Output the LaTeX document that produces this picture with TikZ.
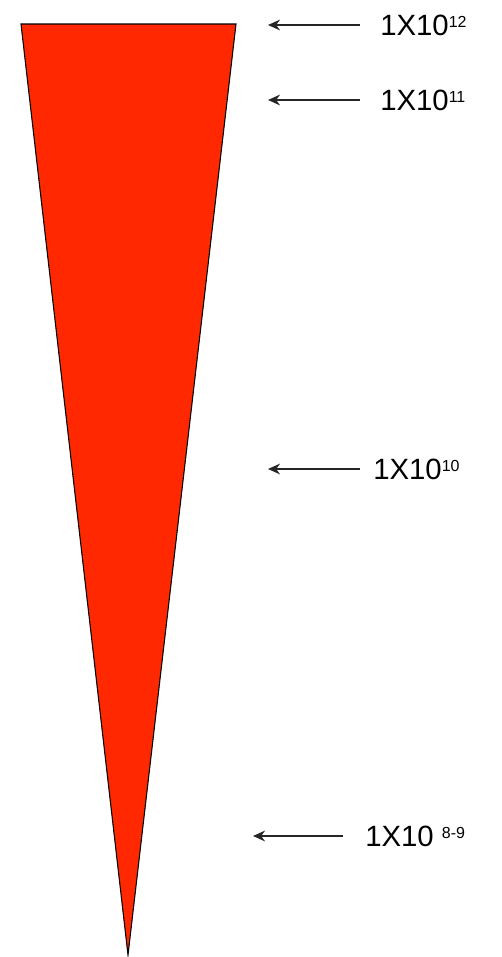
\documentclass[tikz,border=0pt]{standalone}
\usepackage{fontspec}
\setmainfont{Liberation Sans}
\usetikzlibrary{arrows.meta}
\definecolor{wedgered}{RGB}{255,40,0}
\newcommand{\expo}[1]{\raisebox{5.4pt}{\fontsize{12}{12}\selectfont #1}}
\tikzset{
  ptr/.style={-{Stealth[length=9pt,width=8pt]}, line width=1.7pt, black!85},
  lab/.style={anchor=west, inner sep=0pt, font=\fontsize{22}{24}\selectfont}
}
\begin{document}
\begin{tikzpicture}[x=0.75pt, y=-0.75pt]
    \useasboundingbox (0,0) rectangle (502,957);

    % Wedge
    \fill[wedgered] (21,24) -- (236,24) -- (128,955) -- cycle;
    \draw[line width=0.8pt] (21,24) -- (236,24) -- (128,955) -- cycle;

    % Labels
    \node[lab] (l12) at (380,25) {1X10\expo{12}};
    \node[lab] (l11) at (380,100) {1X10\expo{11}};
    \node[lab] (l10) at (373,469) {1X10\expo{10}};
    \node[lab] (l89) at (365,836) {1X10 \expo{8-9}};

    % Arrow ends
    \coordinate (t12) at (360,25);  \coordinate (h12) at (268,25);
    \coordinate (t11) at (360,100); \coordinate (h11) at (268,100);
    \coordinate (t10) at (360,469); \coordinate (h10) at (268,469);
    \coordinate (t89) at (343,836); \coordinate (h89) at (253,836);

    % Arrows
    \draw[ptr] (t12) -- (h12);
    \draw[ptr] (t11) -- (h11);
    \draw[ptr] (t10) -- (h10);
    \draw[ptr] (t89) -- (h89);
\end{tikzpicture}
\end{document}
